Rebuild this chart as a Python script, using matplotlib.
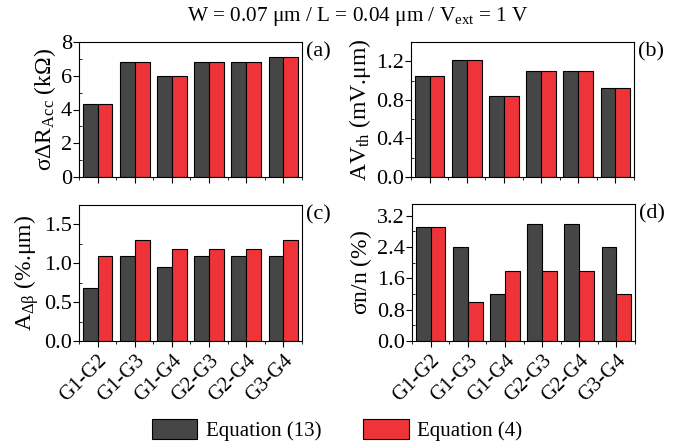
import numpy as np
import matplotlib
matplotlib.use("Agg")
import matplotlib.pyplot as plt
from matplotlib.patches import Patch
from matplotlib.ticker import MultipleLocator, FormatStrFormatter

plt.rcParams['font.family'] = ['Liberation Serif', 'DejaVu Serif']
plt.rcParams['mathtext.fontset'] = 'custom'
plt.rcParams['mathtext.rm'] = 'Liberation Serif'
plt.rcParams['mathtext.it'] = 'Liberation Serif:italic'
plt.rcParams['mathtext.default'] = 'rm'

categories = ["G1-G2", "G1-G3", "G1-G4", "G2-G3", "G2-G4", "G3-G4"]
series_names = ["Equation (13)", "Equation (4)"]

a_eq13 = [4.35, 6.8, 6.0, 6.8, 6.8, 7.1]
a_eq4 = [4.35, 6.8, 6.0, 6.8, 6.8, 7.1]
b_eq13 = [1.05, 1.21, 0.84, 1.10, 1.10, 0.92]
b_eq4 = [1.05, 1.21, 0.84, 1.10, 1.10, 0.92]
c_eq13 = [0.68, 1.10, 0.95, 1.10, 1.10, 1.10]
c_eq4 = [1.10, 1.30, 1.19, 1.19, 1.19, 1.30]
d_eq13 = [2.9, 2.4, 1.2, 3.0, 3.0, 2.4]
d_eq4 = [2.9, 1.0, 1.8, 1.8, 1.8, 1.2]

dark = '#464646'
red = '#ee3439'

fig = plt.figure(figsize=(6.78, 4.47), dpi=100)
W, H = 678, 447
def ax_at(l, t, r, b):
    return fig.add_axes([l / W, 1 - b / H, (r - l) / W, (b - t) / H])

axes = [ax_at(79, 42, 302, 177), ax_at(411, 42, 634, 177),
        ax_at(79, 205, 302, 341), ax_at(412, 204, 635, 341)]

panels = [
    (a_eq13, a_eq4, 8, 2, 1, '%d', r'$\sigma\Delta R_{Acc}$ (k$\Omega$)', '(a)'),
    (b_eq13, b_eq4, 1.4, 0.4, 0.2, '%.1f', r'AV$_{th}$ (mV.$\mu$m)', '(b)'),
    (c_eq13, c_eq4, 1.75, 0.5, 0.25, '%.1f', r'A$_{\Delta\beta}$ (%.$\mu$m)', '(c)'),
    (d_eq13, d_eq4, 3.5, 0.8, 0.4, '%.1f', r'$\sigma$n/n (%)', '(d)'),
]

x = np.arange(len(categories))
w = 0.4
for i, (ax, (s1, s2, ymax, maj, mnr, fmt, ylab, tag)) in enumerate(zip(axes, panels)):
    ax.bar(x - w / 2, s1, w, color=dark, edgecolor='black', linewidth=0.8)
    ax.bar(x + w / 2, s2, w, color=red, edgecolor='black', linewidth=0.8)
    ax.set_xlim(-0.5, 5.5)
    ax.set_ylim(0, ymax)
    ax.yaxis.set_major_locator(MultipleLocator(maj))
    ax.yaxis.set_minor_locator(MultipleLocator(mnr))
    ax.yaxis.set_major_formatter(FormatStrFormatter(fmt))
    ax.set_xticks(x)
    ax.xaxis.set_minor_locator(MultipleLocator(0.5))
    ax.tick_params(axis='y', which='major', direction='out', length=4, labelsize=16, pad=1)
    ax.tick_params(axis='y', which='minor', direction='in', length=2)
    ax.tick_params(axis='x', which='major', direction='out', length=4, labelsize=15)
    ax.tick_params(axis='x', which='minor', direction='out', length=2)
    if i >= 2:
        ax.set_xticklabels(categories, rotation=45, ha='right', rotation_mode='anchor')
    else:
        ax.set_xticklabels([])
    ax.set_ylabel(ylab, fontsize=17, labelpad=2)
    ax.text(1.02, 0.93, tag, transform=ax.transAxes, fontsize=16, va='center', ha='left')

fig.text(0.528, 0.962, r'W = 0.07 $\mu$m / L = 0.04 $\mu$m / V$_{ext}$ = 1 V',
         ha='center', va='center', fontsize=15.3)

handles = [Patch(facecolor=dark, edgecolor='black', linewidth=0.8),
           Patch(facecolor=red, edgecolor='black', linewidth=0.8)]
fig.legend(handles, series_names, loc='center', bbox_to_anchor=(0.497, 0.038),
           ncol=2, frameon=False, fontsize=15, handlelength=2.2, handleheight=1.1,
           columnspacing=2.0, handletextpad=0.4)

fig.savefig('out.png', dpi=100)
